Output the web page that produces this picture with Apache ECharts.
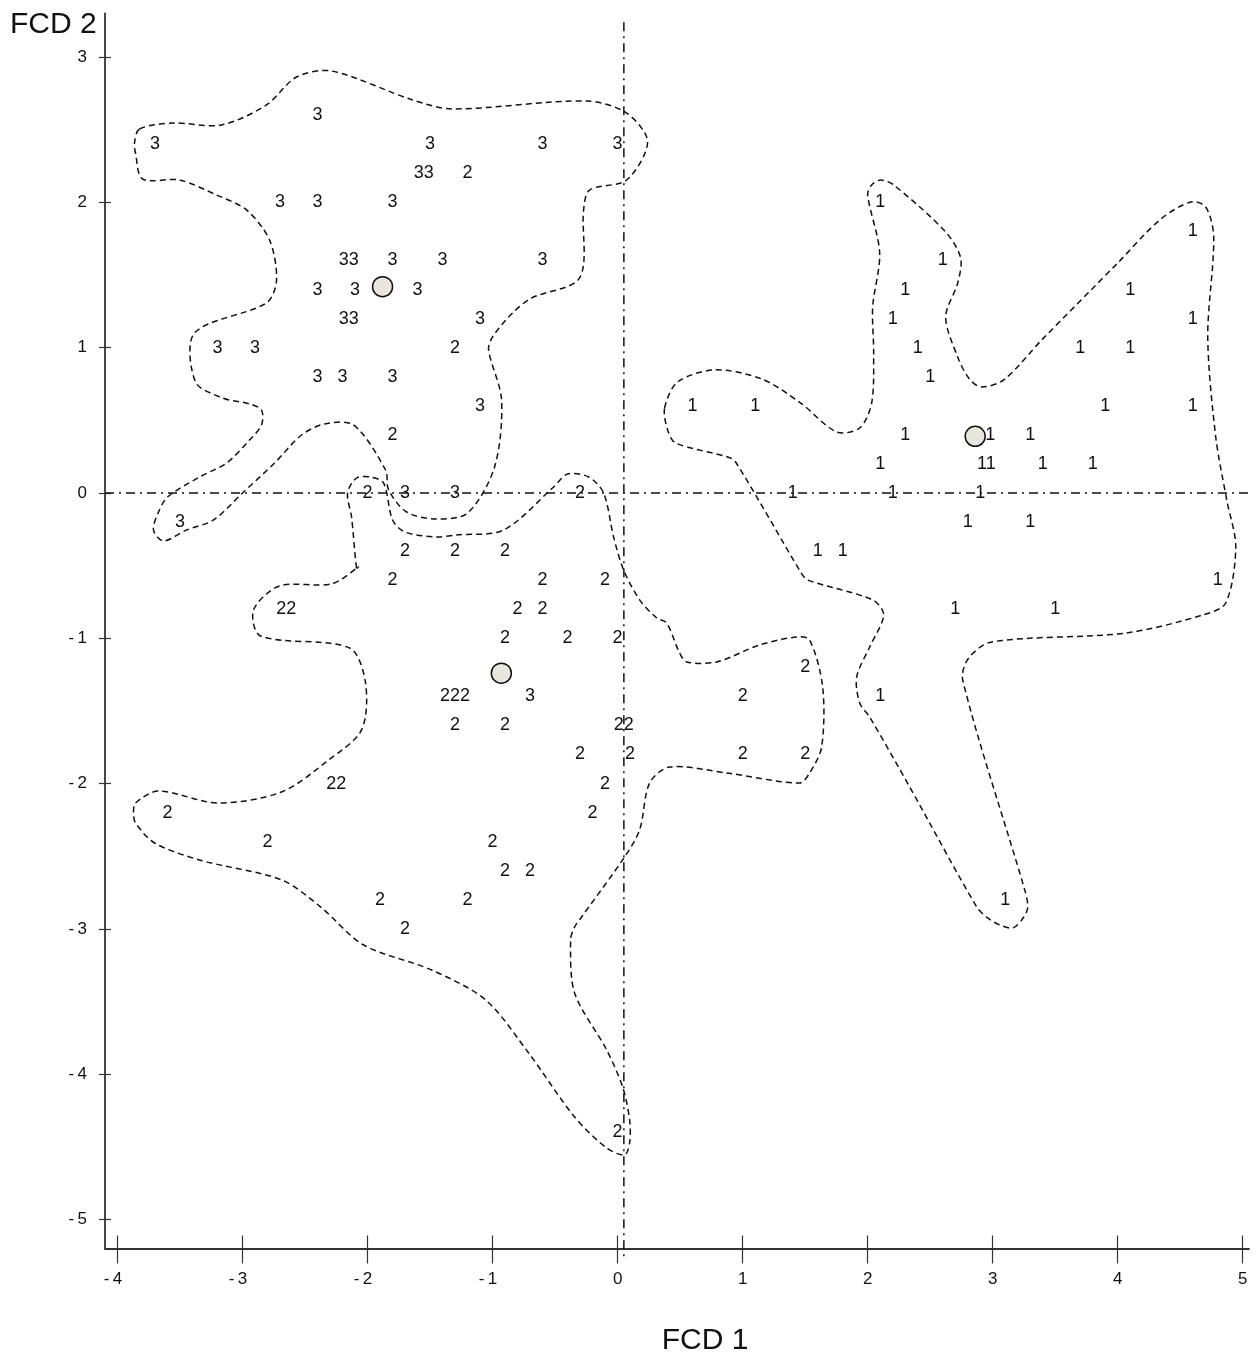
<!DOCTYPE html>
<html>
<head>
<meta charset="utf-8">
<title>FCD 1 / FCD 2</title>
<script src="https://cdn.jsdelivr.net/npm/echarts@6/dist/echarts.min.js"></script>
<style>
  html, body { margin: 0; padding: 0; background: #fff; }
  #chart { width: 1257px; height: 1360px; }
</style>
</head>
<body>
<div id="chart"></div>
<script>
// Tick positions of both discriminant axes
const xTicks = [-4, -3, -2, -1, 0, 1, 2, 3, 4, 5];
const yTicks = [-5, -4, -3, -2, -1, 0, 1, 2, 3];

// Case scores on FCD 1 / FCD 2, labelled by group (coincident cases share one label)
const caseX = [
  -2.4, -3.7, -1.5, -0.6, 0.0, -1.55, -1.2, -2.7, -2.4, -1.8,
  -2.15, -1.8, -1.4, -0.6, -2.4, -2.1, -1.6, -2.15, -1.1, -3.2,
  -2.9, -1.3, -2.4, -2.2, -1.8, -1.1, -1.8, -2.0, -1.7, -1.3,
  -0.3, -3.5,
  -1.7, -1.3, -0.9, -1.8, -0.6, -0.1, -2.65, -0.8, -0.6, -0.9,
  -0.4, 0.0, -1.3, -0.7, -1.3, -0.9, 0.05, -0.3, 0.1, -2.25,
  -0.1, -3.6, -0.2, -2.8, -1.0, -0.9, -0.7, -1.9, -1.2, -1.7,
  0.0, 1.5, 1.0, 1.0, 1.5,
  2.1, 4.6, 2.6, 2.3, 4.1, 2.2, 4.6, 2.4, 3.7, 4.1,
  2.5, 0.6, 1.1, 3.9, 4.6, 2.3, 2.98, 3.3, 2.1, 2.95,
  3.4, 3.8, 1.4, 2.2, 2.9, 2.8, 3.3, 1.6, 1.8, 4.8,
  2.7, 3.5, 2.1, 3.1
];
const caseY = [
  2.6, 2.4, 2.4, 2.4, 2.4, 2.2, 2.2, 2.0, 2.0, 2.0,
  1.6, 1.6, 1.6, 1.6, 1.4, 1.4, 1.4, 1.2, 1.2, 1.0,
  1.0, 1.0, 0.8, 0.8, 0.8, 0.6, 0.4, 0.0, 0.0, 0.0,
  0.0, -0.2,
  -0.4, -0.4, -0.4, -0.6, -0.6, -0.6, -0.8, -0.8, -0.8, -1.0,
  -1.0, -1.0, -1.4, -1.4, -1.6, -1.6, -1.6, -1.8, -1.8, -2.0,
  -2.0, -2.2, -2.2, -2.4, -2.4, -2.6, -2.6, -2.8, -2.8, -3.0,
  -4.4, -1.2, -1.4, -1.8, -1.8,
  2.0, 1.8, 1.6, 1.4, 1.4, 1.2, 1.2, 1.0, 1.0, 1.0,
  0.8, 0.6, 0.6, 0.6, 0.6, 0.4, 0.4, 0.4, 0.2, 0.2,
  0.2, 0.2, 0.0, 0.0, 0.0, -0.2, -0.2, -0.4, -0.4, -0.6,
  -0.8, -0.8, -1.4, -2.8
];
const caseText = [
  '3', '3', '3', '3', '3', '33', '2', '3', '3', '3',
  '33', '3', '3', '3', '3', '3', '3', '33', '3', '3',
  '3', '2', '3', '3', '3', '3', '2', '2', '3', '3',
  '2', '3',
  '2', '2', '2', '2', '2', '2', '22', '2', '2', '2',
  '2', '2', '222', '3', '2', '2', '22', '2', '2', '22',
  '2', '2', '2', '2', '2', '2', '2', '2', '2', '2',
  '2', '2', '2', '2', '2',
  '1', '1', '1', '1', '1', '1', '1', '1', '1', '1',
  '1', '1', '1', '1', '1', '1', '1', '1', '1', '11',
  '1', '1', '1', '1', '1', '1', '1', '1', '1', '1',
  '1', '1', '1', '1'
];

// Group centroids
const centroidX = [-1.88, -0.93, 2.86];
const centroidY = [1.42, -1.24, 0.39];

// Outline of group 3 cases
const contour3 = [
  [-3.824, 2.505], [-3.56, 2.546], [-3.168, 2.533], [-2.808, 2.671], [-2.568, 2.863],
  [-2.288, 2.904], [-1.64, 2.705], [-1.32, 2.643], [-0.248, 2.698], [0.072, 2.615],
  [0.24, 2.416], [0.072, 2.154], [-0.224, 2.085], [-0.272, 1.948], [-0.304, 1.48],
  [-0.688, 1.342], [-0.84, 1.239], [-1.0, 1.074], [-1.032, 0.984], [-0.928, 0.64],
  [-0.984, 0.179], [-1.2, -0.138], [-1.456, -0.179], [-1.688, -0.131], [-1.832, 0.021],
  [-1.856, 0.158], [-2.112, 0.468], [-2.344, 0.475], [-2.528, 0.399], [-2.744, 0.206],
  [-3.0, 0.0], [-3.232, -0.186], [-3.448, -0.255], [-3.632, -0.33], [-3.712, -0.255],
  [-3.672, -0.131], [-3.6, -0.028], [-3.344, 0.11], [-3.128, 0.206], [-2.944, 0.365],
  [-2.848, 0.468], [-2.848, 0.571], [-2.944, 0.613], [-3.16, 0.654], [-3.376, 0.764],
  [-3.384, 1.101], [-2.808, 1.308], [-2.728, 1.466], [-2.784, 1.741], [-2.968, 1.948],
  [-3.208, 2.051], [-3.504, 2.154], [-3.8, 2.161], [-3.856, 2.34], [-3.864, 2.409]
];

// Outline of group 1 cases
const contour1 = [
  [0.376, 0.585], [0.48, 0.764], [0.776, 0.847], [1.152, 0.785], [1.464, 0.619],
  [1.752, 0.42], [1.936, 0.447], [2.032, 0.619], [2.048, 0.964], [2.04, 1.28],
  [2.096, 1.652], [2.0, 2.051], [2.032, 2.12], [2.104, 2.154], [2.208, 2.12],
  [2.624, 1.796], [2.744, 1.617], [2.72, 1.445], [2.624, 1.211], [2.72, 0.936],
  [2.808, 0.791], [2.904, 0.73], [3.088, 0.778], [3.392, 1.053], [4.0, 1.583],
  [4.336, 1.879], [4.584, 2.003], [4.704, 1.968], [4.768, 1.762], [4.72, 1.074],
  [4.784, 0.385], [4.872, -0.048], [4.944, -0.372], [4.864, -0.757], [4.68, -0.84],
  [4.064, -0.964], [2.992, -1.025], [2.808, -1.136], [2.76, -1.287], [3.256, -2.732],
  [3.28, -2.856], [3.232, -2.939], [3.16, -2.994], [3.056, -2.973], [2.96, -2.925],
  [2.872, -2.849], [2.336, -2.023], [2.016, -1.542], [1.936, -1.445], [1.912, -1.266],
  [2.016, -1.06], [2.128, -0.84], [2.04, -0.736], [1.52, -0.599], [1.464, -0.544],
  [0.944, 0.213], [0.88, 0.248], [0.464, 0.344], [0.4, 0.434]
];

// Outline of group 2 cases
const contour2 = [
  [-2.088, -0.516], [-2.128, -0.165], [-2.16, 0.0], [-2.088, 0.103], [-1.976, 0.11],
  [-1.872, 0.069], [-1.8, -0.186], [-1.704, -0.268], [-1.456, -0.303], [-1.288, -0.289],
  [-0.912, -0.255], [-0.512, 0.041], [-0.4, 0.131], [-0.232, 0.11], [-0.112, 0.0],
  [-0.032, -0.303], [0.048, -0.53], [0.176, -0.736], [0.312, -0.86], [0.392, -0.895],
  [0.496, -1.101], [0.552, -1.163], [0.792, -1.163], [1.136, -1.046], [1.432, -0.991],
  [1.536, -1.012], [1.64, -1.335], [1.632, -1.748], [1.536, -1.927], [1.456, -1.996],
  [0.872, -1.927], [0.416, -1.886], [0.256, -1.996], [0.176, -2.319], [0.056, -2.505],
  [-0.288, -2.918], [-0.344, -2.987], [-0.376, -3.076], [-0.344, -3.441], [-0.088, -3.833],
  [0.04, -4.088], [0.096, -4.315], [0.096, -4.474], [0.056, -4.556], [-0.088, -4.508],
  [-0.344, -4.295], [-0.712, -3.854], [-1.056, -3.489], [-1.488, -3.283], [-2.032, -3.111],
  [-2.376, -2.849], [-2.688, -2.663], [-3.344, -2.526], [-3.704, -2.409], [-3.856, -2.271],
  [-3.872, -2.202], [-3.856, -2.134], [-3.672, -2.051], [-3.2, -2.134], [-2.688, -2.058],
  [-2.312, -1.838], [-2.048, -1.631], [-2.016, -1.308], [-2.144, -1.067], [-2.856, -0.984],
  [-2.912, -0.805], [-2.704, -0.64], [-2.288, -0.626], [-2.072, -0.509]
];

// Dash-dot reference lines through the origin of the discriminant space
const vLineX = 0.05;
const vLineY = [3.24, -5.26];
const hLineY = 0;
const hLineX = [-4.1, 5.1];

const FONT = '"Liberation Sans", Arial, Helvetica, sans-serif';
const INK = '#111';
const AXIS = '#333';

const chart = echarts.init(document.getElementById('chart'), null, { renderer: 'canvas' });

function yLabel(v) {
  return v < 0 ? '-\u2009' + Math.abs(v) : String(v);
}
function xLabel(v) {
  // keep the digit centred under its tick, the minus sign hangs to the left
  return v < 0 ? '{m|-\u2009}' + Math.abs(v) + '{p|-\u2009}' : String(v);
}

const axisText = { fontFamily: FONT, fontSize: 17, color: INK };

function contourSeries(points) {
  return {
    type: 'custom',
    coordinateSystem: 'cartesian2d',
    silent: true,
    z: 3,
    data: [[0, 0]],
    renderItem: function (params, api) {
      return {
        type: 'polygon',
        shape: { points: points.map(p => api.coord(p)), smooth: 0.3 },
        style: { fill: 'none', stroke: INK, lineWidth: 1.5, lineDash: [6, 4] }
      };
    }
  };
}

const option = {
  backgroundColor: '#fff',
  animation: false,
  grid: { left: 105, top: 13.5, width: 1144, height: 1235, containLabel: false },
  xAxis: [
    {
      type: 'value', min: -4.1, max: 5.05, position: 'bottom',
      axisLine: { show: true, onZero: false, lineStyle: { color: AXIS, width: 1.8 } },
      axisTick: { show: true, customValues: xTicks, length: 15, lineStyle: { color: AXIS, width: 1.2 } },
      axisLabel: {
        show: true, customValues: xTicks, margin: 22, formatter: xLabel,
        fontFamily: FONT, fontSize: 17, color: INK,
        rich: {
          m: { fontFamily: FONT, fontSize: 17, color: INK },
          p: { fontFamily: FONT, fontSize: 17, color: 'rgba(0,0,0,0)' }
        }
      },
      splitLine: { show: false }
    },
    {
      type: 'value', min: -4.1, max: 5.05, position: 'bottom',
      axisLine: { show: false, onZero: false },
      axisTick: { show: true, inside: true, customValues: xTicks, length: 13, lineStyle: { color: AXIS, width: 1.2 } },
      axisLabel: { show: false },
      splitLine: { show: false }
    }
  ],
  yAxis: [
    {
      type: 'value', min: -5.2, max: 3.3, position: 'left',
      axisLine: { show: true, onZero: false, lineStyle: { color: AXIS, width: 1.8 } },
      axisTick: { show: true, customValues: yTicks, length: 6, lineStyle: { color: AXIS, width: 1.2 } },
      axisLabel: Object.assign({ show: true, customValues: yTicks, margin: 18, formatter: yLabel }, axisText),
      splitLine: { show: false }
    },
    {
      type: 'value', min: -5.2, max: 3.3, position: 'left',
      axisLine: { show: false, onZero: false },
      axisTick: { show: true, inside: true, customValues: yTicks, length: 6, lineStyle: { color: AXIS, width: 1.2 } },
      axisLabel: { show: false },
      splitLine: { show: false }
    }
  ],
  graphic: [
    {
      type: 'text', x: 10, y: 25,
      style: { text: 'FCD 2', fontFamily: FONT, fontSize: 30, fill: INK, align: 'left', verticalAlign: 'middle' }
    },
    {
      type: 'text', x: 705, y: 1341,
      style: { text: 'FCD 1', fontFamily: FONT, fontSize: 30, fill: INK, align: 'center', verticalAlign: 'middle' }
    }
  ],
  series: [
    {
      type: 'line', silent: true, clip: false, symbol: 'none', z: 2,
      data: [[vLineX, vLineY[0]], [vLineX, vLineY[1]]],
      lineStyle: { color: INK, width: 1.5, type: [9, 5, 2, 5] }
    },
    {
      type: 'line', silent: true, clip: false, symbol: 'none', z: 2,
      data: [[hLineX[0], hLineY], [hLineX[1], hLineY]],
      lineStyle: { color: INK, width: 1.5, type: [9, 5, 2, 5] }
    },
    contourSeries(contour3),
    contourSeries(contour1),
    contourSeries(contour2),
    {
      type: 'custom',
      coordinateSystem: 'cartesian2d',
      silent: true,
      z: 4,
      data: caseX.map((x, i) => [x, caseY[i]]),
      renderItem: function (params, api) {
        const pt = api.coord([api.value(0), api.value(1)]);
        return {
          type: 'text',
          x: pt[0], y: pt[1],
          style: {
            text: caseText[params.dataIndex],
            fontFamily: FONT, fontSize: 18, fill: INK,
            align: 'center', verticalAlign: 'middle'
          }
        };
      }
    },
    {
      type: 'scatter', silent: true, z: 5,
      symbol: 'circle', symbolSize: 20,
      data: centroidX.map((x, i) => [x, centroidY[i]]),
      itemStyle: { color: '#e9e7dd', borderColor: INK, borderWidth: 1.5, opacity: 1 }
    }
  ]
};

chart.setOption(option);
</script>
</body>
</html>
